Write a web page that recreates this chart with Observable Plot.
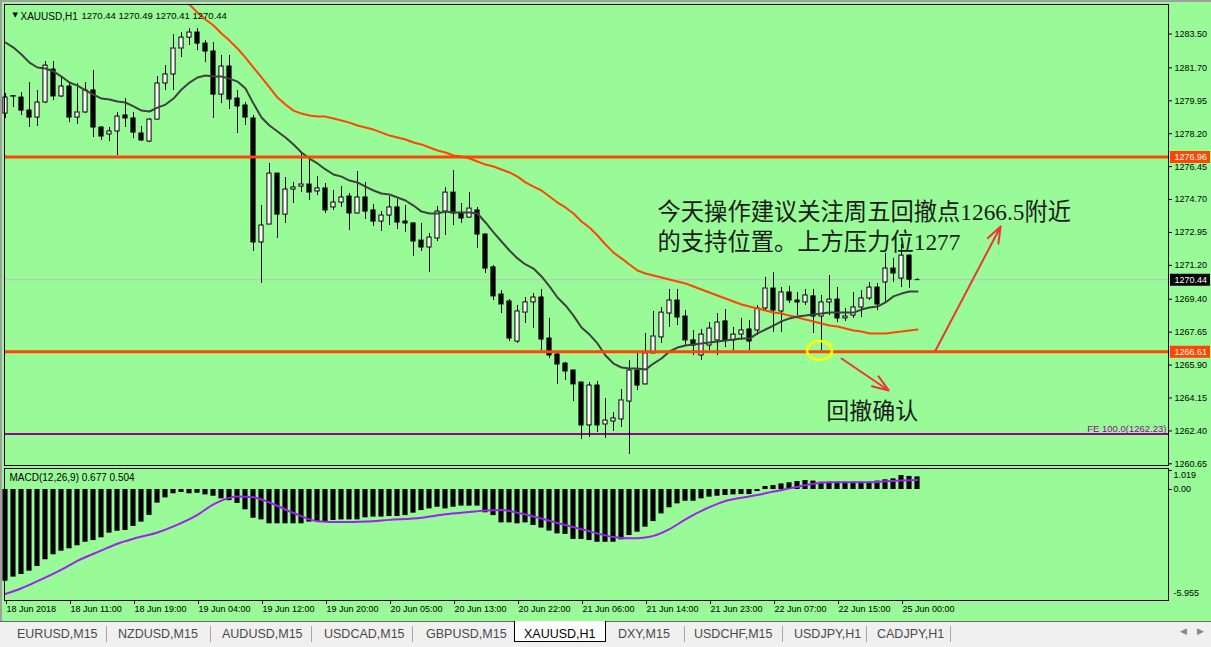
<!DOCTYPE html>
<html><head><meta charset="utf-8">
<script src="https://cdn.jsdelivr.net/npm/d3@7"></script>
<script src="https://cdn.jsdelivr.net/npm/@observablehq/plot@0.6"></script>
<style>
html,body{margin:0;padding:0;background:#98fb98;}
#root{position:relative;width:1211px;height:647px;overflow:hidden;background:#98fb98;font-family:"Liberation Sans",Arial,sans-serif;}
#main{position:absolute;left:0;top:0;}
#macd{position:absolute;left:0;top:466px;}
.gb{position:absolute;background:#a0a0a0;}
#tabs{position:absolute;left:0;top:621px;width:1211px;height:26px;background:#f0f0f0;border-top:1px solid #6a6a6a;box-sizing:border-box;}
.tab{position:absolute;top:4px;font-size:12.5px;color:#4a4a4a;line-height:16px;white-space:nowrap;}
.sep{position:absolute;top:4px;width:1px;height:16px;background:#a8a8a8;}
.active{position:absolute;top:-1px;height:20px;background:#fff;border:1px solid #000;border-top:none;}
.arr{position:absolute;top:4px;font-size:9px;color:#888;font-family:"DejaVu Sans",sans-serif;}
</style></head>
<body>
<div id="root">
  <div id="main"></div>
  <div id="macd"></div>
  <div class="gb" style="left:0;top:0;width:1211px;height:2px;"></div>
  <div class="gb" style="left:0;top:0;width:2px;height:621px;"></div>
  <div id="tabs"></div>
</div>
<script>
// ---------------- data ----------------
const symbolName = "XAUUSD,H1";
const headerQuote = "1270.44 1270.49 1270.41 1270.44";

const open = [1279.27,1280.17,1280.12,1279.43,1279.06,1279.86,1281.61,1280.18,1280.71,1279.06,
1279.33,1280.50,1278.53,1278.16,1278.32,1279.17,1279.01,1278.21,1277.78,1278.95,
1280.87,1281.35,1282.73,1283.31,1283.58,1282.99,1282.57,1280.28,1281.77,1280.07,
1279.70,1279.01,1272.42,1273.37,1276.08,1273.90,1275.23,1275.39,1275.50,1275.13,
1275.29,1274.28,1274.54,1274.86,1273.96,1274.81,1274.12,1273.53,1273.85,1274.28,
1273.53,1273.43,1272.52,1272.15,1272.63,1274.06,1275.07,1273.96,1273.74,1274.12,
1272.84,1271.09,1269.65,1269.28,1267.15,1268.69,1269.23,1269.49,1267.31,1266.46,
1265.98,1265.61,1264.97,1262.69,1264.81,1262.74,1262.90,1263.01,1263.96,1265.61,
1264.87,1266.52,1267.37,1268.64,1269.33,1268.48,1267.21,1266.41,1266.94,1267.21,
1268.22,1267.21,1267.52,1267.79,1267.74,1268.91,1269.97,1268.75,1269.76,1269.33,
1269.23,1269.55,1268.48,1269.23,1269.38,1268.38,1268.53,1268.96,1269.44,1270.02,
1270.29,1271.03,1270.50,1271.72,1270.44];
const high = [1280.34,1280.23,1280.39,1280.92,1280.50,1282.04,1282.04,1281.24,1280.92,1280.87,
1280.92,1281.56,1278.56,1278.53,1279.33,1280.07,1279.33,1278.58,1279.01,1281.24,
1281.82,1283.47,1283.58,1283.79,1283.79,1283.15,1283.05,1282.36,1282.36,1280.50,
1279.86,1279.17,1274.38,1276.62,1276.10,1275.87,1275.61,1277.20,1276.88,1275.92,
1275.55,1275.18,1275.39,1275.02,1276.19,1275.61,1274.44,1274.06,1274.86,1274.70,
1274.38,1273.45,1273.43,1272.89,1274.33,1275.34,1276.24,1274.49,1275.07,1274.28,
1272.86,1271.19,1269.86,1269.38,1269.07,1269.49,1269.70,1269.92,1268.38,1266.57,
1266.04,1265.63,1265.00,1264.97,1265.03,1264.12,1263.38,1264.60,1266.14,1266.52,
1267.58,1268.75,1268.96,1269.92,1269.92,1268.80,1267.74,1267.79,1268.16,1268.64,
1268.85,1267.90,1268.38,1268.27,1269.07,1270.56,1270.82,1270.02,1270.08,1269.76,
1269.92,1269.92,1269.60,1270.66,1270.02,1268.91,1269.76,1269.86,1270.29,1270.24,
1271.83,1271.57,1272.31,1271.75,1270.49];
const low = [1279.01,1279.59,1279.17,1278.53,1278.58,1279.80,1279.96,1280.12,1278.79,1278.69,
1279.27,1278.00,1277.84,1277.78,1277.04,1278.53,1277.94,1277.78,1277.73,1278.93,
1280.50,1280.50,1282.25,1282.89,1282.62,1281.98,1279.01,1279.80,1279.49,1278.21,
1278.64,1271.94,1270.24,1273.37,1272.63,1273.43,1274.49,1275.07,1274.65,1274.91,
1273.96,1274.12,1274.28,1273.05,1273.94,1273.64,1273.27,1273.00,1273.32,1273.11,
1272.95,1271.67,1271.94,1270.82,1272.47,1272.79,1273.32,1273.43,1273.72,1272.10,
1270.77,1269.33,1268.64,1267.15,1267.05,1268.11,1267.84,1266.67,1266.25,1264.87,
1265.08,1263.96,1261.94,1262.05,1262.32,1262.00,1262.37,1262.58,1261.15,1264.55,
1264.85,1266.50,1267.05,1267.90,1268.00,1266.94,1266.41,1266.14,1266.67,1266.41,
1266.83,1266.67,1267.21,1266.67,1267.47,1268.80,1267.63,1267.63,1269.17,1268.53,
1269.07,1267.58,1266.67,1268.53,1268.16,1268.22,1268.38,1268.43,1269.33,1268.80,
1269.23,1270.29,1270.02,1269.97,1270.41];
const close = [1280.12,1280.20,1279.43,1279.06,1279.86,1281.82,1280.18,1280.71,1279.06,1279.33,
1280.50,1278.53,1278.05,1278.32,1279.11,1279.01,1278.26,1277.84,1278.95,1280.87,
1281.35,1282.73,1283.31,1283.58,1282.99,1282.57,1280.28,1281.77,1280.02,1279.65,
1279.06,1272.42,1273.32,1276.08,1273.90,1275.23,1275.34,1275.50,1275.07,1275.29,
1274.12,1274.54,1274.81,1273.96,1274.81,1274.06,1273.53,1273.85,1274.28,1273.48,
1273.43,1272.47,1272.15,1272.68,1274.06,1275.07,1273.96,1273.69,1274.22,1272.84,
1271.03,1269.55,1269.12,1267.31,1268.75,1269.23,1269.49,1267.26,1266.41,1265.93,
1265.56,1264.87,1262.69,1264.81,1262.69,1262.95,1263.06,1264.02,1265.61,1264.81,
1266.52,1267.42,1268.69,1269.33,1268.43,1267.21,1266.94,1267.52,1267.84,1268.16,
1267.21,1267.52,1267.74,1267.15,1268.91,1269.97,1268.80,1269.76,1269.33,1269.23,
1269.60,1268.48,1269.23,1269.38,1268.38,1268.48,1268.96,1269.44,1270.02,1269.12,
1271.03,1270.77,1271.72,1270.44,1270.44];

// fast moving average (dark line), one value per bar
const maFast = [1283.05,1282.78,1282.41,1281.98,1281.72,1281.67,1281.51,1281.24,1280.92,1280.76,
1280.50,1280.28,1280.07,1280.02,1279.91,1279.86,1279.65,1279.43,1279.38,1279.59,
1279.75,1280.07,1280.55,1280.92,1281.19,1281.29,1281.24,1281.24,1281.13,1280.97,
1280.60,1279.80,1279.06,1278.64,1278.32,1278.00,1277.63,1277.20,1276.88,1276.62,
1276.30,1276.03,1275.92,1275.71,1275.61,1275.39,1275.18,1275.02,1274.97,1274.81,
1274.65,1274.38,1274.06,1273.96,1273.96,1274.06,1274.01,1274.01,1274.01,1273.96,
1273.48,1272.95,1272.47,1271.99,1271.57,1271.25,1271.03,1270.61,1270.08,1269.49,
1269.07,1268.53,1267.90,1267.52,1267.05,1266.41,1265.98,1265.77,1265.72,1265.72,
1265.66,1265.98,1266.25,1266.62,1266.83,1266.94,1266.99,1267.05,1267.10,1267.15,
1267.21,1267.26,1267.31,1267.31,1267.58,1267.79,1268.00,1268.22,1268.38,1268.48,
1268.53,1268.59,1268.64,1268.69,1268.69,1268.69,1268.69,1268.85,1268.96,1269.01,
1269.23,1269.55,1269.70,1269.81,1269.81];
// slow moving average (red line), starts at bar 22 (above the window before that)
const maSlowStart = 22;
const maSlow = [1285.44,1285.07,1284.64,1284.27,1283.95,1283.53,1283.15,1282.73,1282.25,1281.72,
1281.19,1280.66,1280.12,1279.75,1279.43,1279.27,1279.17,1279.11,1279.11,1279.01,
1278.90,1278.79,1278.64,1278.53,1278.42,1278.26,1278.10,1278.00,1277.89,1277.73,
1277.63,1277.47,1277.31,1277.20,1277.04,1276.99,1276.88,1276.72,1276.56,1276.46,
1276.30,1276.14,1275.92,1275.61,1275.39,1275.18,1274.86,1274.54,1274.28,1273.96,
1273.53,1273.21,1272.79,1272.31,1271.88,1271.57,1271.25,1270.93,1270.77,1270.66,
1270.56,1270.45,1270.34,1270.24,1270.08,1269.92,1269.76,1269.60,1269.44,1269.28,
1269.12,1269.01,1268.91,1268.80,1268.69,1268.64,1268.53,1268.43,1268.32,1268.22,
1268.11,1268.00,1267.95,1267.84,1267.74,1267.68,1267.58,1267.58,1267.58,1267.63,
1267.68,1267.74,1267.79];

// MACD histogram (main line) per bar
const macdHist = [-4.92,-4.70,-4.56,-4.38,-4.13,-3.77,-3.50,-3.31,-3.18,-3.02,
-2.83,-2.74,-2.59,-2.34,-2.24,-2.20,-1.98,-1.75,-1.39,-0.73,
-0.45,-0.23,-0.16,-0.23,-0.20,-0.29,-0.36,-0.50,-0.60,-0.75,
-1.09,-1.54,-1.63,-1.84,-1.84,-1.84,-1.84,-1.84,-1.75,-1.72,
-1.75,-1.66,-1.63,-1.63,-1.63,-1.52,-1.48,-1.48,-1.45,-1.45,
-1.40,-1.27,-1.13,-1.04,-0.95,-1.04,-0.95,-0.89,-0.89,-0.89,
-1.25,-1.40,-1.79,-1.79,-1.84,-1.79,-1.93,-2.07,-2.23,-2.38,
-2.41,-2.68,-2.68,-2.74,-2.83,-2.83,-2.83,-2.70,-2.47,-2.29,
-2.02,-1.72,-1.31,-0.98,-0.77,-0.63,-0.63,-0.50,-0.41,-0.36,
-0.32,-0.29,-0.27,-0.27,-0.11,0.16,0.21,0.30,0.36,0.43,
0.48,0.45,0.39,0.39,0.39,0.39,0.39,0.39,0.39,0.45,
0.52,0.57,0.75,0.70,0.677];
// MACD signal line, read at these bars
const signalBars = [0,2,4,7,9,12,14,16,19,21,24,26,28,29,31,33,36,39,42,45,48,52,55,58,60,62,64,66,69,72,76,78,80,81,83,85,88,90,92,94,96,98,100,103,108,110,112,114];
const signalVals = [-5.60,-5.30,-4.92,-4.30,-3.83,-3.27,-2.91,-2.64,-2.31,-1.98,-1.36,-0.80,-0.45,-0.38,-0.42,-0.70,-1.26,-1.70,-1.75,-1.72,-1.63,-1.51,-1.33,-1.21,-1.13,-1.10,-1.25,-1.45,-1.80,-2.13,-2.55,-2.62,-2.57,-2.49,-2.13,-1.60,-0.95,-0.62,-0.44,-0.30,-0.11,0.06,0.23,0.39,0.39,0.44,0.48,0.504];

const priceTicks = [1283.50,1281.70,1279.95,1278.20,1276.45,1274.70,1272.95,1271.20,1269.40,1267.65,1265.90,1264.15,1262.40,1260.65];
const macdLabels = ["1.019","0.00","-5.955"];
const macdLabelVals = [1.019,0,-5.955];
const macdTitle = "MACD(12,26,9) 0.677 0.504";
const timeTickBars = [0,8,16,24,32,40,48,56,64,72,80,88,96,104,112];
const timeTickLabels = ["18 Jun 2018","18 Jun 11:00","18 Jun 19:00","19 Jun 04:00","19 Jun 12:00","19 Jun 20:00","20 Jun 05:00","20 Jun 13:00","20 Jun 22:00","21 Jun 06:00","21 Jun 14:00","21 Jun 23:00","22 Jun 07:00","22 Jun 15:00","25 Jun 00:00"];

const levelLines = [1276.96, 1266.61];
const lastPrice = 1270.44;
const feLevel = 1262.23;
const feLabel = "FE 100.0(1262.23)";

const noteLines = ["今天操作建议关注周五回撤点1266.5附近", "的支持位置。上方压力位1277"];
const noteBar = 81.5;
const notePrices = [1274.01, 1272.42];
const confirmNote = "回撤确认";
const confirmBar = 102.6, confirmPrice = 1263.43;
const ringBar = 101.75, ringPrice = 1266.67;
const arrowFromBar = [116.25, 104.5], arrowFromPrice = [1266.67, 1266.25];
const arrowToBar = [124.4, 110.4], arrowToPrice = [1273.27, 1264.55];

const tabNames = ["EURUSD,M15","NZDUSD,M15","AUDUSD,M15","USDCAD,M15","GBPUSD,M15","XAUUSD,H1","DXY,M15","USDCHF,M15","USDJPY,H1","CADJPY,H1"];
const activeTab = "XAUUSD,H1";

// ---------------- drawing ----------------
const xMin = -0.125, xMax = 145.375;
const font = "'Liberation Sans', Arial, sans-serif";
const noteFont = "'Liberation Serif', 'Noto Sans CJK SC', serif";
const candles = open.map((o, i) => ({i, o, h: high[i], l: low[i], c: close[i]}));
const fastLine = maFast.map((v, i) => ({i, v}));
const slowLine = maSlow.map((v, k) => ({i: k + maSlowStart, v}));
const hist = macdHist.map((v, i) => ({i, v}));
const sig = signalBars.map((b, k) => ({b, v: signalVals[k]}));
const arrows = arrowFromBar.map((b, k) => ({b1: b, p1: arrowFromPrice[k], b2: arrowToBar[k], p2: arrowToPrice[k]}));
const timeLabel = new Map(timeTickBars.map((b, k) => [b, timeTickLabels[k]]));

const ellipse = {draw(ctx) {
  const rx = 12.5, ry = 9.5, k = 0.5523;
  ctx.moveTo(rx, 0);
  ctx.bezierCurveTo(rx, ry * k, rx * k, ry, 0, ry);
  ctx.bezierCurveTo(-rx * k, ry, -rx, ry * k, -rx, 0);
  ctx.bezierCurveTo(-rx, -ry * k, -rx * k, -ry, 0, -ry);
  ctx.bezierCurveTo(rx * k, -ry, rx, -ry * k, rx, 0);
  ctx.closePath();
}};

const main = Plot.plot({
  width: 1211, height: 467,
  marginLeft: 4, marginRight: 43, marginTop: 4, marginBottom: 2,
  x: {domain: [xMin, xMax], axis: null},
  y: {domain: [1260.56, 1285.07], axis: null},
  style: {background: "transparent", fontFamily: font, fontSize: "9px", color: "black", overflow: "visible"},
  marks: [
    Plot.ruleY([lastPrice], {stroke: "#c0c0c0", strokeWidth: 1}),
    Plot.ruleY([feLevel], {stroke: "#990099", strokeWidth: 2}),
    Plot.ruleX(candles, {x: "i", y1: "l", y2: "h", stroke: "black", strokeWidth: 1}),
    Plot.rect(candles.filter(d => d.o !== d.c), {x1: d => d.i - 0.26, x2: d => d.i + 0.26, y1: "o", y2: "c",
      fill: d => d.c > d.o ? "white" : "black", stroke: "black", strokeWidth: 1}),
    Plot.ruleY(candles.filter(d => d.o === d.c), {y: "c", x1: d => d.i - 0.3, x2: d => d.i + 0.3, stroke: "black"}),
    Plot.line(slowLine, {x: "i", y: "v", stroke: "#ff4500", strokeWidth: 2, clip: true}),
    Plot.line(fastLine, {x: "i", y: "v", stroke: "#404040", strokeWidth: 2, clip: true}),
    Plot.ruleY(levelLines, {stroke: "#ff4500", strokeWidth: 3}),
    Plot.frame({stroke: "black"}),
    // right price axis
    Plot.axisY(priceTicks, {anchor: "right", label: null, tickSize: 3, tickPadding: 3, tickFormat: d => d.toFixed(2), fontSize: 9}),
    Plot.ruleY(levelLines, {x1: () => xMax + 0.25, x2: () => xMax + 5.25, stroke: "#ff4500", strokeWidth: 12}),
    Plot.ruleY([lastPrice], {x1: () => xMax + 0.25, x2: () => xMax + 5.25, stroke: "black", strokeWidth: 12}),
    Plot.text(levelLines.concat([lastPrice]), {y: d => d, text: d => d.toFixed(2), frameAnchor: "right", dx: 6, textAnchor: "start", fill: "white", fontSize: 9}),
    Plot.text([feLabel], {y: () => feLevel, frameAnchor: "right", dx: -2, dy: -5, textAnchor: "end", fill: "#990099", fontSize: 9.5}),
    // header
    Plot.text(["▼"], {frameAnchor: "top-left", dx: 8, dy: 8, fontSize: 7, fontFamily: "DejaVu Sans", fill: "black"}),
    Plot.text([symbolName], {frameAnchor: "top-left", dx: 16, dy: 8, textAnchor: "start", fontSize: 10, fill: "black"}),
    Plot.text([headerQuote], {frameAnchor: "top-left", dx: 77, dy: 8, textAnchor: "start", fontSize: 9.5, fill: "black"}),
    // annotations
    Plot.text(noteLines, {x: () => noteBar, y: (d, k) => notePrices[k], text: d => d, textAnchor: "start",
      fontSize: 23.3, fontFamily: noteFont, fill: "#1a1a1a"}),
    Plot.text([confirmNote], {x: () => confirmBar, y: () => confirmPrice, textAnchor: "start",
      fontSize: 23, fontFamily: noteFont, fill: "#1a1a1a"}),
    Plot.dot([{b: ringBar, p: ringPrice}], {x: "b", y: "p", symbol: ellipse, stroke: "#ffff00", strokeWidth: 2.5, fill: "none"}),
    Plot.arrow(arrows, {x1: "b1", y1: "p1", x2: "b2", y2: "p2", stroke: "#ee3535", strokeWidth: 2, headLength: 13, headAngle: 40})
  ]
});
document.getElementById("main").appendChild(main);

const macdTextDy = [5, 0, -7];
const macd = Plot.plot({
  width: 1211, height: 156,
  marginLeft: 4, marginRight: 43, marginTop: 2, marginBottom: 22,
  x: {domain: [xMin, xMax], axis: null},
  y: {domain: [-5.955, 1.126], axis: null},
  style: {background: "transparent", fontFamily: font, fontSize: "9px", color: "black", overflow: "visible"},
  marks: [
    Plot.rect(hist, {x1: d => d.i - 0.32, x2: d => d.i + 0.32, y1: 0, y2: "v", fill: "black"}),
    Plot.line(sig, {x: "b", y: "v", stroke: "#a020f0", strokeWidth: 2, curve: "monotone-x", clip: true}),
    Plot.frame({stroke: "black"}),
    Plot.axisX(timeTickBars, {anchor: "bottom", label: null, tickSize: 4, tickPadding: 1, tickFormat: d => timeLabel.get(d), textAnchor: "start", dx: 1, fontSize: 9}),
    Plot.axisY([1.019, 0], {anchor: "right", label: null, tickSize: 3, tickFormat: () => ""}),
    ...macdLabelVals.map((v, k) => Plot.text([macdLabels[k]], {y: () => v, frameAnchor: "right", dx: 5, dy: macdTextDy[k], textAnchor: "start", fontSize: 9, fill: "black"})),
    Plot.text([macdTitle], {frameAnchor: "top-left", dx: 5, dy: 9, textAnchor: "start", lineAnchor: "middle", fontSize: 10, fill: "black"})
  ]
});
document.getElementById("macd").appendChild(macd);

// tab bar
const tabs = document.getElementById("tabs");
const tabX = [17,118,222,324,426,524,618,694,794,877];
const sepX = [106,210,311,412,684,782,866,950];
tabNames.forEach((n, k) => {
  if (n === activeTab) {
    const a = document.createElement("div");
    a.className = "active"; a.style.left = "514px"; a.style.width = "90px";
    tabs.appendChild(a);
  }
  const t = document.createElement("div");
  t.className = "tab"; t.textContent = n; t.style.left = tabX[k] + "px";
  if (n === activeTab) { t.style.color = "#000"; }
  tabs.appendChild(t);
});
sepX.forEach(x => { const s = document.createElement("div"); s.className = "sep"; s.style.left = x + "px"; tabs.appendChild(s); });
[["◀", 1180], ["▶", 1197]].forEach(([c, x]) => { const s = document.createElement("div"); s.className = "arr"; s.textContent = c; s.style.left = x + "px"; tabs.appendChild(s); });
</script>
</body></html>
